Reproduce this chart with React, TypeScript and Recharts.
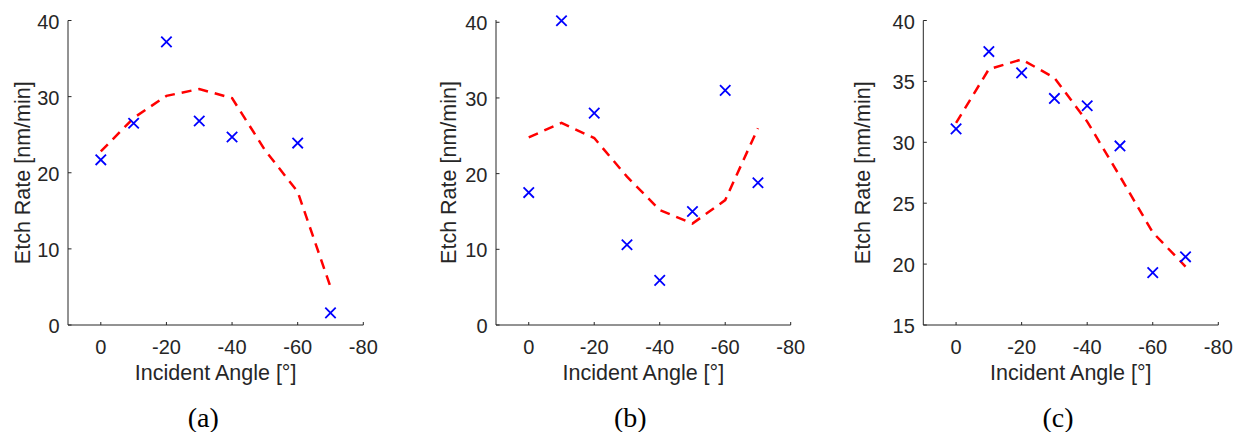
import React from 'react';
import { ComposedChart, Line, Scatter, XAxis, YAxis, Label } from 'recharts';

// Incident angles (degrees) at which the etch rate was measured / fitted
const angles = [0, -10, -20, -30, -40, -50, -60, -70];
const angleTicks = [0, -20, -40, -60, -80];

// (a) measurements (no sample at -50°) and fitted curve
const measuredAnglesA = [0, -10, -20, -30, -40, -60, -70];
const measuredA = [21.7, 26.5, 37.2, 26.8, 24.7, 23.9, 1.6];
const fitA = [22.8, 27.2, 30.1, 31.0, 29.8, 23.0, 17.5, 5.0];
const yTicksA = [0, 10, 20, 30, 40];

// (b)
const measuredAnglesB = [0, -10, -20, -30, -40, -50, -60, -70];
const measuredB = [17.5, 40.2, 28.0, 10.6, 5.9, 15.0, 31.0, 18.8];
const fitB = [24.8, 26.7, 24.7, 19.6, 15.2, 13.4, 16.5, 26.0];
const yTicksB = [0, 10, 20, 30, 40];

// (c)
const measuredAnglesC = [0, -10, -20, -30, -40, -50, -60, -70];
const measuredC = [31.1, 37.45, 35.7, 33.6, 33.0, 29.7, 19.3, 20.6];
const fitC = [31.6, 36.0, 36.8, 35.3, 31.7, 27.2, 22.6, 19.8];
const yTicksC = [15, 20, 25, 30, 35, 40];

const AXIS = '#262626';
const SANS = '"Liberation Sans", Arial, Helvetica, sans-serif';
const SERIF = '"Liberation Serif", "Times New Roman", serif';

const XTick = (props: any) => {
  const { x, y, payload } = props;
  return (
    <g>
      <line x1={x} x2={x} y1={y} y2={y - 3} stroke={AXIS} strokeWidth={1} />
      <text x={x} y={y + 28.5} textAnchor="middle" fontSize={20} fill={AXIS} fontFamily={SANS}>
        {String(payload.value)}
      </text>
    </g>
  );
};

const YTick = (props: any) => {
  const { x, y, payload } = props;
  return (
    <g>
      <line x1={x} x2={x + 3.5} y1={y} y2={y} stroke={AXIS} strokeWidth={1} />
      <text x={x - 8.5} y={y + 8} textAnchor="end" fontSize={20} fill={AXIS} fontFamily={SANS}>
        {String(payload.value)}
      </text>
    </g>
  );
};

const Cross = (props: any) => {
  const { cx, cy } = props;
  if (cx == null || cy == null) return null;
  const r = 5.2;
  return (
    <path
      d={`M${cx - r},${cy - r}L${cx + r},${cy + r}M${cx - r},${cy + r}L${cx + r},${cy - r}`}
      stroke="#0000ff"
      strokeWidth={1.8}
      fill="none"
    />
  );
};

type PanelProps = {
  left: number;
  yAxisWidth: number;
  marginRight: number;
  marginTop: number;
  labelOffset: number;
  measuredAngles: number[];
  measured: number[];
  fit: number[];
  yDomain: [number, number];
  yTicks: number[];
};

const Panel = (p: PanelProps) => {
  const points = p.measuredAngles.map((a, i) => ({ angle: a, rate: p.measured[i] }));
  const curve = angles.map((a, i) => ({ angle: a, fit: p.fit[i] }));
  const xAxisHeight = 60;
  const height = 432;
  return (
    <div style={{ position: 'absolute', left: p.left, top: 0 }}>
      <ComposedChart
        width={412}
        height={height}
        margin={{ top: p.marginTop, right: p.marginRight, left: 0, bottom: height - 325 - xAxisHeight }}
      >
        <XAxis
          type="number"
          dataKey="angle"
          domain={[-80, 10]}
          reversed
          ticks={angleTicks}
          interval={0}
          height={xAxisHeight}
          tickSize={0}
          tickMargin={0}
          tickLine={false}
          tick={<XTick />}
          axisLine={{ stroke: AXIS, strokeWidth: 1 }}
        >
          <Label
            value="Incident Angle [°]"
            position="insideBottom"
            offset={5}
            fontSize={21.5}
            fill={AXIS}
            fontFamily={SANS}
          />
        </XAxis>
        <YAxis
          type="number"
          dataKey="rate"
          domain={p.yDomain}
          ticks={p.yTicks}
          interval={0}
          width={p.yAxisWidth}
          tickSize={0}
          tickMargin={0}
          tickLine={false}
          tick={<YTick />}
          axisLine={{ stroke: AXIS, strokeWidth: 1 }}
        >
          <Label
            value="Etch Rate [nm/min]"
            angle={-90}
            position="insideLeft"
            offset={p.labelOffset}
            fontSize={21.5}
            fill={AXIS}
            fontFamily={SANS}
            style={{ textAnchor: 'middle' }}
          />
        </YAxis>
        <Line
          data={curve}
          dataKey="fit"
          type="linear"
          stroke="#ff0000"
          strokeWidth={2.5}
          strokeDasharray="10 7"
          dot={false}
          activeDot={false}
          isAnimationActive={false}
        />
        <Scatter data={points} dataKey="rate" shape={<Cross />} isAnimationActive={false} />
      </ComposedChart>
    </div>
  );
};

export default function App() {
  return (
    <div style={{ position: 'absolute', left: 0, top: 0, width: 1236, height: 432, background: '#ffffff' }}>
      <Panel
        left={0}
        yAxisWidth={68}
        marginRight={48.7}
        marginTop={20.5}
        labelOffset={22.5}
        measuredAngles={measuredAnglesA}
        measured={measuredA}
        fit={fitA}
        yDomain={[0, 40]}
        yTicks={yTicksA}
      />
      <Panel
        left={412}
        yAxisWidth={84}
        marginRight={33.3}
        marginTop={20}
        labelOffset={36.5}
        measuredAngles={measuredAnglesB}
        measured={measuredB}
        fit={fitB}
        yDomain={[0, 40.3]}
        yTicks={yTicksB}
      />
      <Panel
        left={824}
        yAxisWidth={99.3}
        marginRight={17.7}
        marginTop={20.5}
        labelOffset={38.8}
        measuredAngles={measuredAnglesC}
        measured={measuredC}
        fit={fitC}
        yDomain={[15, 40]}
        yTicks={yTicksC}
      />
      <svg
        width={1236}
        height={432}
        style={{ position: 'absolute', left: 0, top: 0, pointerEvents: 'none' }}
      >
        <text x={203.3} y={427} textAnchor="middle" fontSize={28} fontFamily={SERIF} fill="#000">(a)</text>
        <text x={630.3} y={427} textAnchor="middle" fontSize={28} fontFamily={SERIF} fill="#000">(b)</text>
        <text x={1058} y={427} textAnchor="middle" fontSize={28} fontFamily={SERIF} fill="#000">(c)</text>
      </svg>
    </div>
  );
}
